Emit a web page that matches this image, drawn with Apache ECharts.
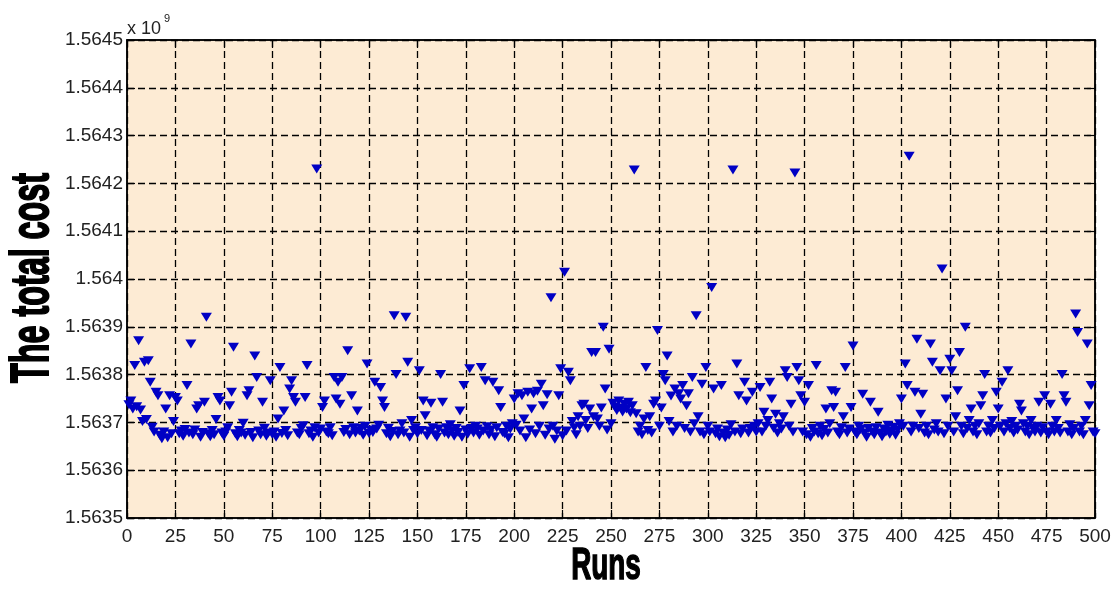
<!DOCTYPE html>
<html><head><meta charset="utf-8">
<script src="https://cdn.jsdelivr.net/npm/echarts@6/dist/echarts.min.js"></script>
<style>html,body{margin:0;padding:0;background:#fff}#c{width:1115px;height:590px}</style>
</head><body><div id="c"></div>
<script>
// total cost per run, in units of 10^9
const cost_001_100 = [
1.563737,1.563745,1.563728,1.563819,1.563733,1.563871,1.563726,1.563702,1.563826,1.563706,1.563829,1.563784,1.563690,1.563680,1.563763,1.563756,1.563673,1.563666,1.563680,1.563728,1.563668,1.563756,1.563676,1.563702,1.563752,
1.563745,1.563676,1.563682,1.563671,1.563685,1.563777,1.563678,1.563864,1.563674,1.563684,1.563728,1.563735,1.563669,1.563679,1.563742,1.563920,1.563676,1.563670,1.563683,1.563674,1.563706,1.563752,1.563745,1.563678,1.563671,
1.563680,1.563689,1.563735,1.563763,1.563857,1.563676,1.563670,1.563683,1.563678,1.563698,1.563673,1.563756,1.563766,1.563679,1.563668,1.563839,1.563794,1.563682,1.563674,1.563742,1.563688,1.563671,1.563678,1.563787,1.563675,
1.563680,1.563669,1.563707,1.563815,1.563677,1.563724,1.563683,1.563672,1.563770,1.563787,1.563752,1.563742,1.563678,1.563674,1.563687,1.563693,1.563752,1.563819,1.563676,1.563682,1.563669,1.563689,1.564230,1.563678,1.563686];
const cost_101_200 = [
1.563731,1.563745,1.563680,1.563676,1.563689,1.563672,1.563794,1.563749,1.563784,1.563738,1.563794,1.563679,1.563685,1.563850,1.563674,1.563756,1.563689,1.563678,1.563724,1.563682,1.563687,1.563673,1.563692,1.563822,1.563677,
1.563684,1.563679,1.563784,1.563686,1.563694,1.563773,1.563745,1.563731,1.563676,1.563688,1.563670,1.563681,1.563923,1.563800,1.563674,1.563682,1.563697,1.563678,1.563920,1.563826,1.563669,1.563704,1.563683,1.563689,1.563676,
1.563808,1.563683,1.563745,1.563714,1.563672,1.563682,1.563740,1.563689,1.563674,1.563669,1.563686,1.563800,1.563742,1.563678,1.563689,1.563674,1.563695,1.563682,1.563671,1.563687,1.563679,1.563724,1.563669,1.563777,1.563684,
1.563675,1.563812,1.563687,1.563678,1.563692,1.563686,1.563673,1.563815,1.563682,1.563787,1.563691,1.563674,1.563684,1.563784,1.563670,1.563689,1.563766,1.563731,1.563679,1.563676,1.563692,1.563668,1.563686,1.563697,1.563749];
const cost_201_300 = [
1.563694,1.563760,1.563682,1.563756,1.563707,1.563668,1.563763,1.563684,1.563728,1.563760,1.563676,1.563765,1.563692,1.563780,1.563735,1.563673,1.563758,1.563686,1.563961,1.563692,1.563665,1.563682,1.563756,1.563812,1.563672,
1.564014,1.563682,1.563805,1.563787,1.563702,1.563689,1.563674,1.563712,1.563692,1.563735,1.563738,1.563704,1.563687,1.563728,1.563846,1.563712,1.563846,1.563707,1.563692,1.563730,1.563899,1.563770,1.563684,1.563853,1.563697,
1.563740,1.563732,1.563725,1.563745,1.563730,1.563722,1.563738,1.563728,1.563742,1.563720,1.563735,1.564228,1.563718,1.563680,1.563692,1.563674,1.563707,1.563815,1.563683,1.563712,1.563678,1.563738,1.563745,1.563892,1.563692,
1.563730,1.563800,1.563787,1.563839,1.563702,1.563755,1.563680,1.563770,1.563692,1.563760,1.563749,1.563777,1.563687,1.563735,1.563760,1.563680,1.563794,1.563697,1.563923,1.563712,1.563680,1.563780,1.563674,1.563815,1.563692];
const cost_301_400 = [
1.563680,1.563982,1.563770,1.563676,1.563686,1.563670,1.563777,1.563678,1.563668,1.563684,1.563673,1.563695,1.564228,1.563680,1.563822,1.563756,1.563676,1.563686,1.563784,1.563745,1.563678,1.563687,1.563763,1.563692,1.563680,
1.563697,1.563773,1.563680,1.563721,1.563692,1.563704,1.563784,1.563749,1.563688,1.563717,1.563678,1.563697,1.563686,1.563712,1.563808,1.563794,1.563692,1.563738,1.563680,1.564222,1.563815,1.563787,1.563756,1.563680,1.563742,
1.563674,1.563777,1.563669,1.563687,1.563680,1.563819,1.563676,1.563692,1.563672,1.563685,1.563728,1.563678,1.563697,1.563766,1.563731,1.563763,1.563680,1.563674,1.563689,1.563712,1.563815,1.563678,1.563686,1.563731,1.563860,
1.563680,1.563674,1.563692,1.563685,1.563759,1.563678,1.563669,1.563687,1.563742,1.563680,1.563674,1.563689,1.563721,1.563678,1.563670,1.563686,1.563680,1.563694,1.563675,1.563682,1.563690,1.563673,1.563684,1.563697,1.563749];
const cost_401_500 = [
1.563692,1.563822,1.563777,1.564257,1.563680,1.563692,1.563763,1.563874,1.563687,1.563717,1.563759,1.563678,1.563692,1.563674,1.563864,1.563826,1.563684,1.563697,1.563680,1.563808,1.564021,1.563676,1.563749,1.563692,1.563832,
1.563808,1.563680,1.563712,1.563766,1.563846,1.563692,1.563676,1.563899,1.563687,1.563704,1.563728,1.563680,1.563692,1.563674,1.563697,1.563735,1.563756,1.563800,1.563680,1.563692,1.563678,1.563704,1.563687,1.563763,1.563728,
1.563692,1.563784,1.563680,1.563697,1.563808,1.563687,1.563702,1.563678,1.563692,1.563684,1.563738,1.563724,1.563697,1.563680,1.563692,1.563674,1.563704,1.563687,1.563680,1.563692,1.563742,1.563678,1.563689,1.563756,1.563680,
1.563674,1.563738,1.563692,1.563680,1.563704,1.563687,1.563678,1.563800,1.563756,1.563742,1.563680,1.563695,1.563674,1.563687,1.563927,1.563888,1.563680,1.563692,1.563674,1.563704,1.563864,1.563735,1.563777,1.563680,1.563676];

const xMin = 0, xMax = 500, xStep = 25;
const yMin = 1.5635, yMax = 1.5645, yStep = 0.0001;
const xTitle = 'Runs';
const yTitle = 'The total cost';
const yExponent = '9';

const costs = [].concat(cost_001_100, cost_101_200, cost_201_300, cost_301_400, cost_401_500);
const points = costs.map((c, i) => [i + 1, c]);

const FONT = '"Liberation Sans", Arial, sans-serif';
const chart = echarts.init(document.getElementById('c'), null, {renderer: 'canvas'});
const tickStyle = {show: true, inside: true, length: 8, lineStyle: {color: '#000', width: 1.2}};
const lineStyle = {show: true, onZero: false, lineStyle: {color: '#000', width: 1.5}};
const splitStyle = {show: true, lineStyle: {color: '#000', type: [7, 4], width: 1.3}};

chart.setOption({
  animation: false,
  backgroundColor: '#fff',
  grid: {left: 127, right: 20, top: 40, bottom: 72, show: true, backgroundColor: '#FDEBD4',
         borderColor: '#000', borderWidth: 1.5, containLabel: false, outerBoundsMode: 'none'},
  xAxis: [
    {type: 'value', min: xMin, max: xMax, interval: xStep, position: 'bottom',
     axisLine: lineStyle, axisTick: tickStyle, splitLine: splitStyle,
     axisLabel: {color: '#222', fontSize: 19, fontFamily: FONT, margin: 9}},
    {type: 'value', min: xMin, max: xMax, interval: xStep, position: 'top',
     axisLine: lineStyle, axisTick: tickStyle, splitLine: {show: false}, axisLabel: {show: false}}
  ],
  yAxis: [
    {type: 'value', min: yMin, max: yMax, interval: yStep, position: 'left',
     axisLine: lineStyle, axisTick: tickStyle, splitLine: splitStyle,
     axisLabel: {color: '#222', fontSize: 19, fontFamily: FONT, margin: 4,
                 formatter: v => String(Number(v.toFixed(4)))}},
    {type: 'value', min: yMin, max: yMax, interval: yStep, position: 'right',
     axisLine: lineStyle, axisTick: tickStyle, splitLine: {show: false}, axisLabel: {show: false}}
  ],
  graphic: [
    {type: 'text', x: 606, y: 567, scaleX: 0.62,
     style: {text: xTitle, font: 'bold 45px ' + FONT, fill: '#000', stroke: '#000', lineWidth: 1.5,
             textAlign: 'center', textVerticalAlign: 'middle'}},
    {type: 'text', x: 33, y: 278, rotation: Math.PI / 2, scaleX: 0.61,
     style: {text: yTitle, font: 'bold 53px ' + FONT, fill: '#000', stroke: '#000', lineWidth: 2,
             textAlign: 'center', textVerticalAlign: 'middle'}},
    {type: 'text', x: 127, y: 29,
     style: {text: 'x 10', font: '18px ' + FONT, fill: '#222', textAlign: 'left', textVerticalAlign: 'middle'}},
    {type: 'text', x: 164, y: 19,
     style: {text: yExponent, font: '11px ' + FONT, fill: '#222', textAlign: 'left', textVerticalAlign: 'middle'}}
  ],
  series: [{
    type: 'scatter', xAxisIndex: 0, yAxisIndex: 0, data: points,
    symbol: 'path://M0,0L10,0L5,9Z', symbolSize: [11, 9],
    itemStyle: {color: '#0000C4', opacity: 1}
  }]
});
</script></body></html>
